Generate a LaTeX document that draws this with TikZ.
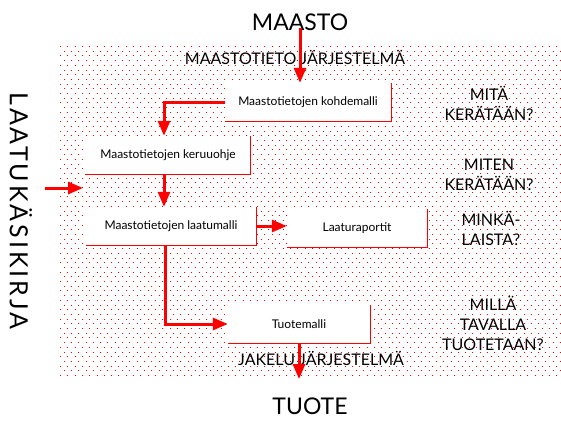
\documentclass[tikz,border=0pt]{standalone}
\usepackage{fontspec}
\setmainfont{Lato}
\usepackage{tikz}
\usetikzlibrary{arrows.meta, positioning, calc}

\begin{document}
\begin{tikzpicture}[
    x=1pt, y=-1pt,
    mbox/.style={rectangle, fill=white, minimum width=#1, minimum height=38pt,
                 inner sep=0pt, font=\fontsize{12}{14}\selectfont},
    bigtxt/.style={font=\fontsize{23}{28}\selectfont},
    systxt/.style={font=\fontsize{16}{18}\selectfont},
    qtxt/.style={align=center, font=\fontsize{16}{20}\selectfont},
    arr/.style={-{Triangle[length=15pt, width=12pt]}, draw=red, line width=3pt},
    edge/.style={draw=red, line width=1pt}
]
\useasboundingbox (0,0) rectangle (561,421);

% dotted background
\foreach \j in {0,...,70} {
  \pgfmathsetmacro\yy{46+4.7*\j}
  \pgfmathsetmacro\xo{60+3.65*mod(\j,2)}
  \foreach \i in {0,...,68}
    \fill[red] (\xo+7.3*\i,\yy) rectangle ++(1,1);
}

% texts
\node[bigtxt] (maasto) at (300,22) {MAASTO};
\node[systxt] (mtj) at (295,57) {MAASTOTIETO JÄRJESTELMÄ};
\node[systxt] (jakelu) at (321,358) {JAKELU JÄRJESTELMÄ};
\node[bigtxt] (tuote) at (310,406) {TUOTE};
\node[rotate=-90, font=\fontsize{25}{28}\selectfont\addfontfeature{LetterSpace=12}]
  (kirja) at (21,211) {LAATUKÄSIKIRJA};

\node[qtxt] (q1) at (489,103) {MITÄ\\KERÄTÄÄN?};
\node[qtxt] (q2) at (489,175) {MITEN\\KERÄTÄÄN?};
\node[qtxt] (q3) at (491,228) {MINKÄ-\\LAISTA?};
\node[qtxt] (q4) at (493,323) {MILLÄ\\TAVALLA\\TUOTETAAN?};

% boxes
\node[mbox=166pt] (kohde) at (308,102) {Maastotietojen kohdemalli};
\node[mbox=165pt] (keruu) at (168,155) {Maastotietojen keruuohje};
\node[mbox=170pt] (laatu) at (171,226) {Maastotietojen laatumalli};
\node[mbox=140pt] (raportit) at (357,228) {Laaturaportit};
\node[mbox=142pt] (tuotemalli) at (299,324) {Tuotemalli};
\foreach \n in {kohde,keruu,laatu,raportit,tuotemalli}
  \draw[edge] (\n.north east) |- (\n.south west);

% arrows
\coordinate (kirjain) at (45,188);
\coordinate (kirjaout) at (83,188);
\draw[arr] ([yshift=6pt]maasto.south) -- (maasto.south |- kohde.north);
\draw[arr] (kohde.west) -| ([xshift=-4pt]keruu.north);
\draw[arr] ([xshift=-4pt]keruu.south) -- ([xshift=-4pt]keruu.south |- laatu.north);
\draw[arr] (laatu.east) -- (laatu.east -| raportit.west);
\draw[arr] ([xshift=-6pt]laatu.south) |- (tuotemalli.west);
\draw[arr, shorten >=15pt] (tuotemalli.south) -- (tuotemalli.south |- tuote.north);
\draw[arr] (kirjain) -- (kirjaout);
\end{tikzpicture}
\end{document}
